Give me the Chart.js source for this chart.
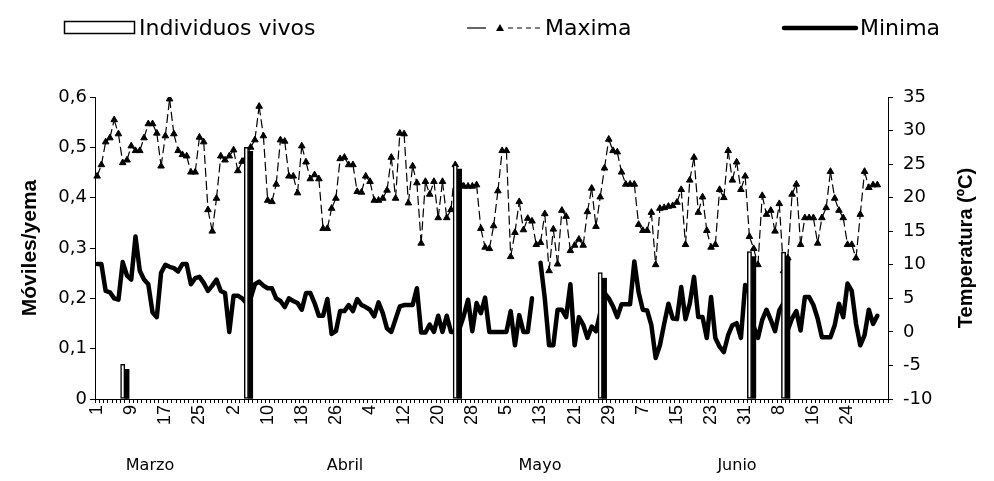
<!DOCTYPE html>
<html lang="es">
<head>
<meta charset="UTF-8">
<title>Individuos vivos y temperaturas</title>
<style>
  html, body { margin: 0; padding: 0; background: #fff; }
  #wrap { width: 994px; height: 481px; position: relative; }
</style>
</head>
<body>
<div id="wrap"><canvas id="chart" width="994" height="481"></canvas></div>
<script src="https://cdn.jsdelivr.net/npm/chart.js@4"></script>
<script>
// daily categories, 1 March to 2 September (key "MM-DD")
const monthKeys = ['03', '04', '05', '06', '07', '08', '09'];
const monthLengths = [31, 30, 31, 30, 31, 31, 2];
const days = [];
monthKeys.forEach((m, k) => {
  for (let d = 1; d <= monthLengths[k]; d++) days.push(m + '-' + String(d).padStart(2, '0'));
});

const monthNames = ['Marzo', 'Abril', 'Mayo', 'Junio'];
const legendNames = ['Individuos vivos', 'Maxima', 'Minima'];

// Móviles/yema (left axis)
const vivosDays = ['03-07', '04-05', '05-24', '06-27', '08-01', '08-09'];
const vivos = [0.069, 0.500, 0.465, 0.251, 0.293, 0.292];
const vivos2Days = ['03-08', '04-06', '05-25', '06-28', '08-02', '08-10'];
const vivos2 = [0.059, 0.492, 0.457, 0.240, 0.283, 0.282];

// temperatures (ºC, right axis), one value per day from 1 March
const tMax = [
  23.2, 24.9, 28.3, 28.9, 31.6, 29.5, 25.2, 25.6, 27.7, 27.0,
  27.0, 28.9, 31.0, 31.0, 29.6, 24.7, 29.2, 34.7, 29.5, 27.0,
  26.4, 26.2, 23.8, 23.8, 29.0, 28.3, 18.2, 15.0, 19.9, 26.2,
  25.6, 26.2, 27.1, 24.0, 25.4, 26.0, 27.5, 28.6, 33.6, 29.2,
  19.6, 19.4, 22.0, 28.6, 28.4, 23.2, 23.2, 20.7, 27.7, 25.3,
  22.8, 23.4, 22.8, 15.4, 15.4, 18.4, 19.9, 25.8, 26.0, 24.9,
  24.9, 20.9, 20.8, 23.2, 22.4, 19.6, 19.6, 19.9, 21.1, 26.0,
  19.9, 29.6, 29.5, 19.2, 24.7, 22.2, 13.2, 22.4, 20.5, 22.4,
  17.0, 22.4, 17.0, 18.2, 24.9, 22.3, 21.7, 21.7, 21.7, 21.9,
  15.4, 12.6, 12.4, 15.8, 21.0, 27.0, 27.0, 11.2, 14.8, 19.4,
  15.2, 16.9, 16.5, 13.0, 13.3, 17.6, 9.1, 15.3, 10.1, 18.1,
  17.2, 12.1, 12.9, 13.8, 12.9, 17.9, 21.4, 15.7, 20.1, 24.4,
  28.7, 27.0, 26.8, 23.8, 22.0, 22.0, 22.0, 16.0, 15.1, 15.1,
  17.8, 10.0, 18.4, 18.5, 18.7, 18.8, 19.3, 21.2, 13.0, 22.6,
  26.0, 17.8, 20.1, 15.1, 12.6, 13.0, 21.2, 20.0, 27.0, 22.6,
  25.3, 21.2, 23.2, 14.2, 12.4, 10.0, 20.3, 17.5, 18.1, 15.0,
  19.1, 9.1, 11.0, 20.5, 22.0, 13.0, 17.0, 17.0, 17.0, 13.2,
  17.0, 18.5, 23.9, 19.9, 18.1, 17.0, 13.0, 13.0, 11.0, 17.5,
  23.9, 21.5, 21.9, 21.9
];
const tMin = [
  10.1, 10.1, 6.1, 5.9, 5.0, 4.8, 10.4, 8.4, 7.8, 14.2,
  9.1, 7.8, 7.1, 2.9, 2.2, 8.8, 10.0, 9.7, 9.5, 9.0,
  10.1, 10.1, 7.1, 8.0, 8.2, 7.3, 6.1, 6.9, 7.8, 6.1,
  5.8, 0.0, 5.4, 5.4, 5.0, 4.3, 5.0, 7.1, 7.5, 6.9,
  6.5, 6.5, 5.0, 4.6, 3.7, 5.0, 4.6, 4.3, 3.3, 5.8,
  5.8, 4.3, 2.4, 2.4, 4.9, -0.3, 0.1, 3.1, 3.1, 4.0,
  3.1, 4.9, 4.0, 3.7, 3.3, 2.3, 4.4, 2.8, 0.5, 0.0,
  1.9, 3.8, 4.0, 4.0, 4.0, 6.5, -0.1, -0.1, 1.1, 0.0,
  2.4, 0.0, 2.4, 0.0, 0.0, 0.5, 2.4, 4.8, 0.1, 4.3,
  2.8, 5.1, 0.0, 0.0, 0.0, 0.0, 0.0, 3.1, -2.0, 2.5,
  0.0, 0.0, 5.0, null, 10.3, 5.0, -2.0, -2.0, 3.3, 3.3,
  2.2, 7.1, -2.0, 2.2, 1.1, -0.9, 0.8, 0.1, 2.8, 5.8,
  5.0, 3.8, 2.2, 4.1, 4.1, 4.1, 10.5, 5.9, 3.3, 3.2,
  1.0, -3.9, -2.0, 1.2, 4.2, 2.0, 1.9, 6.7, 1.9, 4.2,
  8.2, 2.2, 2.2, -0.9, 5.2, -0.9, -2.2, -3.0, -0.5, 1.0,
  1.3, -0.9, 7.0, 5.8, 0.8, -0.9, 1.8, 3.3, 1.8, 0.1,
  3.2, 4.3, 0.3, 2.0, 3.1, 0.2, 5.2, 5.2, 4.0, 2.0,
  -0.8, -0.8, -0.8, 1.0, 4.2, 2.2, 7.2, 6.1, 1.2, -2.0,
  -0.5, 3.3, 1.2, 2.4
];

const FONT = '"Liberation Sans", Arial, sans-serif';
const WIDE = '"DejaVu Sans", sans-serif';

// legend, right axis title and month names drawn on top of the chart
const extras = {
  id: 'extras',
  afterDraw(chart) {
    const ctx = chart.ctx;
    ctx.save();
    ctx.fillStyle = '#000';
    ctx.strokeStyle = '#000';
    ctx.textBaseline = 'middle';
    ctx.textAlign = 'left';
    ctx.font = '22px ' + WIDE;
    const ly = 28;

    ctx.lineWidth = 1.5;
    ctx.strokeRect(64.5, ly - 6.5, 70, 12);
    ctx.fillText(legendNames[0], 139, ly + 1);

    ctx.lineWidth = 1.2;
    ctx.beginPath(); ctx.moveTo(467, ly); ctx.lineTo(486, ly); ctx.stroke();
    ctx.setLineDash([5, 4]);
    ctx.beginPath(); ctx.moveTo(508, ly); ctx.lineTo(540, ly); ctx.stroke();
    ctx.setLineDash([]);
    ctx.beginPath(); ctx.moveTo(500, ly - 4); ctx.lineTo(504, ly + 3); ctx.lineTo(496, ly + 3); ctx.closePath(); ctx.fill();
    ctx.fillText(legendNames[1], 545, ly + 1);

    ctx.lineWidth = 4.5;
    ctx.lineCap = 'round';
    ctx.beginPath(); ctx.moveTo(784, ly); ctx.lineTo(856, ly); ctx.stroke();
    ctx.fillText(legendNames[2], 860, ly + 1);

    ctx.font = '16px ' + WIDE;
    ctx.textAlign = 'center';
    [150, 345, 540, 737].forEach((x, i) => ctx.fillText(monthNames[i], x, 466));

    ctx.translate(966, 248);
    ctx.rotate(-Math.PI / 2);
    ctx.font = 'bold 20px ' + FONT;
    ctx.fillText('Temperatura (ºC)', 0, 0);
    ctx.restore();
  }
};

new Chart(document.getElementById('chart'), {
  type: 'bar',
  data: {
    labels: days,
    datasets: [
      {
        label: legendNames[0],
        data: vivosDays.map((d, i) => ({ x: d, y: vivos[i] })),
        yAxisID: 'y',
        backgroundColor: '#fff',
        borderColor: '#000',
        borderWidth: 1.5,
        borderSkipped: false,
        grouped: false,
        barPercentage: 1,
        categoryPercentage: 1,
        order: 0
      },
      {
        label: legendNames[0] + ' ',
        data: vivos2Days.map((d, i) => ({ x: d, y: vivos2[i] })),
        yAxisID: 'y',
        backgroundColor: '#000',
        borderWidth: 0,
        grouped: false,
        barPercentage: 1,
        categoryPercentage: 1,
        order: 1
      },
      {
        type: 'line',
        label: legendNames[1],
        data: tMax,
        yAxisID: 'yT',
        borderColor: '#000',
        borderWidth: 1.2,
        borderDash: [9, 4],
        segment: { borderDashOffset: c => (c.p0DataIndex % 2 ? 0.01 : 0) },
        pointStyle: 'triangle',
        pointRadius: 3.8,
        pointBackgroundColor: '#000',
        pointBorderColor: '#000',
        pointBorderWidth: 1,
        tension: 0,
        order: 2
      },
      {
        type: 'line',
        label: legendNames[2],
        data: tMin,
        yAxisID: 'yT',
        borderColor: '#000',
        borderWidth: 4.5,
        borderJoinStyle: 'round',
        borderCapStyle: 'round',
        pointRadius: 0,
        spanGaps: false,
        tension: 0,
        order: 3
      }
    ]
  },
  options: {
    responsive: false,
    animation: false,
    layout: { padding: { top: 97, left: 0, right: 0, bottom: 0 } },
    plugins: { legend: { display: false }, tooltip: { enabled: false } },
    scales: {
      x: {
        offset: true,
        grid: { display: true, drawOnChartArea: false, drawTicks: true, tickLength: 4, color: '#000', offset: true },
        border: { display: true, color: '#000', width: 1 },
        ticks: {
          autoSkip: false,
          minRotation: 90,
          maxRotation: 90,
          padding: 2,
          color: '#000',
          font: { family: FONT, size: 18 },
          callback: (v, i) => (i % 8 === 0 && i <= 176 ? String(Number(days[i].slice(3))) : '')
        },
        afterFit: s => { s.height = 82; }
      },
      y: {
        position: 'left',
        min: 0,
        max: 0.6,
        grid: { drawOnChartArea: false, tickLength: 5, color: '#000' },
        border: { color: '#000', width: 1 },
        ticks: {
          stepSize: 0.1,
          padding: 3,
          color: '#000',
          font: { family: WIDE, size: 18 },
          callback: v => (Math.abs(v) < 1e-9 ? '0' : v.toFixed(1).replace('.', ','))
        },
        title: {
          display: true,
          text: 'Móviles/yema',
          color: '#000',
          font: { family: FONT, size: 21, weight: 'bold' },
          padding: { top: 18, bottom: 0 }
        },
        afterFit: s => { s.width = 95; }
      },
      yT: {
        position: 'right',
        min: -10,
        max: 35,
        grid: { drawOnChartArea: false, tickLength: 5, color: '#000' },
        border: { color: '#000', width: 1 },
        ticks: {
          stepSize: 5,
          padding: 10,
          color: '#000',
          font: { family: WIDE, size: 18 }
        },
        afterFit: s => { s.width = 106; }
      }
    }
  },
  plugins: [extras]
});
</script>
</body>
</html>
